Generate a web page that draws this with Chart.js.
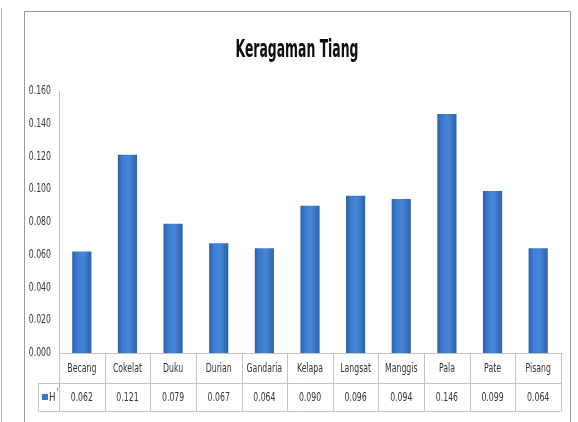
<!DOCTYPE html>
<html>
<head>
<meta charset="utf-8">
<title>Keragaman Tiang</title>
<script src="https://cdn.jsdelivr.net/npm/chart.js@4/dist/chart.umd.min.js"></script>
<style>
  html, body { margin: 0; padding: 0; background: #fff; }
  #wrap { width: 578px; height: 422px; position: relative; }
</style>
</head>
<body>
<div id="wrap"><canvas id="keragaman" width="578" height="422"></canvas></div>
<script>
const FONT = '"DejaVu Sans Condensed", "Liberation Sans", sans-serif';

const chartTitle = 'Keragaman Tiang';
const categories = ['Becang', 'Cokelat', 'Duku', 'Durian', 'Gandaria', 'Kelapa',
                    'Langsat', 'Manggis', 'Pala', 'Pate', 'Pisang'];
const hValues = [0.062, 0.121, 0.079, 0.067, 0.064, 0.090, 0.096, 0.094, 0.146, 0.099, 0.064];
const seriesName = 'H';
const yTicks = [0, 0.02, 0.04, 0.06, 0.08, 0.10, 0.12, 0.14, 0.16];

// squeeze text horizontally to get the narrow office look
function narrowText(ctx, text, x, y, sx) {
  ctx.save();
  ctx.translate(x, y);
  ctx.scale(sx, 1);
  ctx.fillText(text, 0, 0);
  ctx.restore();
}

// horizontal shading so each bar looks rounded
function barFill(context) {
  const chart = context.chart;
  if (!chart.chartArea) return '#3a78c8';
  const x = chart.scales.x.getPixelForValue(context.dataIndex);
  const g = chart.ctx.createLinearGradient(x - 10, 0, x + 10, 0);
  g.addColorStop(0, '#2a5ea8');
  g.addColorStop(0.25, '#3b7bd0');
  g.addColorStop(0.55, '#4886d8');
  g.addColorStop(1, '#2b5fa9');
  return g;
}

// outer frame lines and the title
const framePlugin = {
  id: 'frame',
  beforeDraw(chart) {
    const ctx = chart.ctx;
    ctx.save();
    ctx.strokeStyle = '#b4b4b4';
    ctx.lineWidth = 1;
    ctx.beginPath();
    ctx.moveTo(1.5, 8);
    ctx.lineTo(1.5, 422);
    ctx.stroke();
    ctx.strokeStyle = '#9a9a9a';
    ctx.beginPath();
    ctx.moveTo(24.5, 422);
    ctx.lineTo(24.5, 11.5);
    ctx.lineTo(570.5, 11.5);
    ctx.lineTo(570.5, 422);
    ctx.stroke();

    ctx.fillStyle = '#0d0d0d';
    ctx.font = 'bold 24px ' + FONT;
    ctx.textAlign = 'center';
    ctx.textBaseline = 'alphabetic';
    const w = ctx.measureText(chartTitle).width;
    narrowText(ctx, chartTitle, 297, 57, 123 / w);
    ctx.restore();
  }
};

// y labels and the data table under the plot
const tablePlugin = {
  id: 'dataTable',
  afterDraw(chart) {
    const ctx = chart.ctx;
    const area = chart.chartArea;
    const xs = chart.scales.x;
    const ys = chart.scales.y;
    const n = categories.length;
    const colW = (area.right - area.left) / n;
    const row1 = area.bottom;
    const row2 = row1 + 30;
    const row3 = row2 + 28;
    const legendLeft = 38.5;

    ctx.save();
    ctx.fillStyle = '#333';
    ctx.font = '12px ' + FONT;
    ctx.textAlign = 'right';
    ctx.textBaseline = 'middle';
    yTicks.forEach(v => {
      narrowText(ctx, v.toFixed(3), area.left - 8, ys.getPixelForValue(v), 0.72);
    });

    ctx.strokeStyle = '#c4c4c4';
    ctx.lineWidth = 1;
    ctx.beginPath();
    ctx.moveTo(area.left, row1 + 0.5);
    ctx.lineTo(area.right, row1 + 0.5);
    ctx.moveTo(legendLeft, row2 + 0.5);
    ctx.lineTo(area.right, row2 + 0.5);
    ctx.moveTo(legendLeft, row3 + 0.5);
    ctx.lineTo(area.right, row3 + 0.5);
    ctx.moveTo(legendLeft, row2);
    ctx.lineTo(legendLeft, row3);
    for (let i = 0; i <= n; i++) {
      const x = Math.round(area.left + i * colW) + 0.5;
      ctx.moveTo(x, row1);
      ctx.lineTo(x, row3);
    }
    ctx.stroke();

    ctx.textAlign = 'center';
    for (let i = 0; i < n; i++) {
      const cx = xs.getPixelForValue(i);
      narrowText(ctx, categories[i], cx, (row1 + row2) / 2 + 1, 0.72);
      narrowText(ctx, hValues[i].toFixed(3), cx, (row2 + row3) / 2 + 1, 0.72);
    }

    // legend key + series name
    const midY = (row2 + row3) / 2;
    ctx.fillStyle = '#3a78c8';
    ctx.fillRect(42, midY - 3, 6, 6);
    ctx.fillStyle = '#333';
    ctx.textAlign = 'left';
    narrowText(ctx, seriesName, 49, midY + 1, 0.8);
    ctx.font = '8px ' + FONT;
    ctx.fillText("'", 56.5, midY - 4);
    ctx.restore();
  }
};

const ctx = document.getElementById('keragaman').getContext('2d');
new Chart(ctx, {
  type: 'bar',
  data: {
    labels: categories,
    datasets: [{
      label: seriesName + "'",
      data: hValues,
      backgroundColor: barFill,
      borderWidth: 0,
      categoryPercentage: 1,
      barPercentage: 0.42
    }]
  },
  options: {
    responsive: false,
    animation: false,
    layout: { padding: { left: 26, right: 17, top: 91, bottom: 69 } },
    plugins: {
      legend: { display: false },
      tooltip: { enabled: false },
      title: { display: false }
    },
    scales: {
      x: { display: false },
      y: {
        min: 0,
        max: 0.16,
        afterFit(scale) { scale.width = 33; },
        afterBuildTicks(scale) { scale.ticks = yTicks.map(v => ({ value: v })); },
        grid: { display: false },
        border: { display: true, color: '#bcbcbc' },
        ticks: { display: false }
      }
    }
  },
  plugins: [framePlugin, tablePlugin]
});
</script>
</body>
</html>
